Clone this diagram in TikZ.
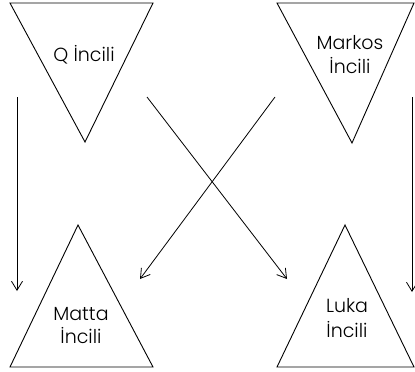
\documentclass[tikz,border=0pt]{standalone}
\usepackage{fontspec}
\setmainfont{Poppins}[UprightFont=* Light]
\usetikzlibrary{arrows.meta}
\begin{document}
\begin{tikzpicture}[x=1pt,y=-1pt,
  tri/.style={draw=black,line width=0.9pt,line join=miter},
  lbl/.style={anchor=base,inner sep=0pt,font=\fontsize{19}{21}\selectfont},
  conn/.style={draw=black,line width=0.8pt,-{Straight Barb[length=9pt,width=11pt,line width=0.8pt]}}]
\useasboundingbox (0,0) rectangle (415,372);
% triangles
\draw[tri] (10,3) -- (153,3) -- (85,142) -- cycle;
\draw[tri] (277,3) -- (414,3) -- (352,143) -- cycle;
\draw[tri] (10,367) -- (153,367) -- (78,225) -- cycle;
\draw[tri] (277,367) -- (414,367) -- (345,225) -- cycle;
% labels
\node[lbl] (q) at (84,61) {Q İncili};
\node[lbl] (mk1) at (350,49) {Markos};
\node[lbl] (mk2) at (350,73) {İncili};
\node[lbl] (mt1) at (81,320) {Matta};
\node[lbl] (mt2) at (81,343) {İncili};
\node[lbl] (lk1) at (347,312) {Luka};
\node[lbl] (lk2) at (347,337) {İncili};
% connector end points
\coordinate (a1) at (17,97);  \coordinate (a2) at (17,291);
\coordinate (b1) at (412,97); \coordinate (b2) at (412,292);
\coordinate (c1) at (147,97); \coordinate (c2) at (287,279);
\coordinate (d1) at (275,97); \coordinate (d2) at (140,279);
\draw[conn] (a1) -- (a2);
\draw[conn] (b1) -- (b2);
\draw[conn] (c1) -- (c2);
\draw[conn] (d1) -- (d2);
\end{tikzpicture}
\end{document}
